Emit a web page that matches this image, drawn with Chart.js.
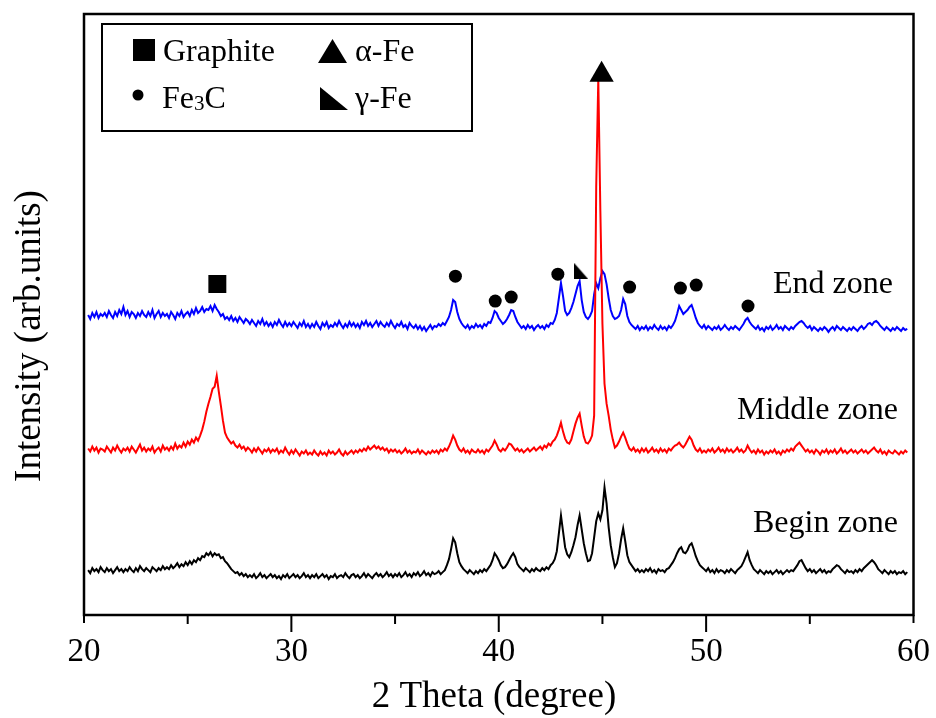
<!DOCTYPE html>
<html>
<head>
<meta charset="utf-8">
<title>XRD patterns</title>
<script src="https://cdn.jsdelivr.net/npm/chart.js@4.4.1/dist/chart.umd.min.js"></script>
<style>
  html, body { margin: 0; padding: 0; background: #fff; }
  #wrap { width: 936px; height: 718px; }
</style>
</head>
<body>
<div id="wrap"><canvas id="xrdChart"></canvas></div>
<script>
// 2 theta (degree), one row per degree
const twoTheta = [
  20.2, 20.3, 20.4, 20.5, 20.6, 20.7, 20.8, 20.9,
  21.0, 21.1, 21.2, 21.3, 21.4, 21.5, 21.6, 21.7, 21.8, 21.9,
  22.0, 22.1, 22.2, 22.3, 22.4, 22.5, 22.6, 22.7, 22.8, 22.9,
  23.0, 23.1, 23.2, 23.3, 23.4, 23.5, 23.6, 23.7, 23.8, 23.9,
  24.0, 24.1, 24.2, 24.3, 24.4, 24.5, 24.6, 24.7, 24.8, 24.9,
  25.0, 25.1, 25.2, 25.3, 25.4, 25.5, 25.6, 25.7, 25.8, 25.9,
  26.0, 26.1, 26.2, 26.3, 26.4, 26.5, 26.6, 26.7, 26.8, 26.9,
  27.0, 27.1, 27.2, 27.3, 27.4, 27.5, 27.6, 27.7, 27.8, 27.9,
  28.0, 28.1, 28.2, 28.3, 28.4, 28.5, 28.6, 28.7, 28.8, 28.9,
  29.0, 29.1, 29.2, 29.3, 29.4, 29.5, 29.6, 29.7, 29.8, 29.9,
  30.0, 30.1, 30.2, 30.3, 30.4, 30.5, 30.6, 30.7, 30.8, 30.9,
  31.0, 31.1, 31.2, 31.3, 31.4, 31.5, 31.6, 31.7, 31.8, 31.9,
  32.0, 32.1, 32.2, 32.3, 32.4, 32.5, 32.6, 32.7, 32.8, 32.9,
  33.0, 33.1, 33.2, 33.3, 33.4, 33.5, 33.6, 33.7, 33.8, 33.9,
  34.0, 34.1, 34.2, 34.3, 34.4, 34.5, 34.6, 34.7, 34.8, 34.9,
  35.0, 35.1, 35.2, 35.3, 35.4, 35.5, 35.6, 35.7, 35.8, 35.9,
  36.0, 36.1, 36.2, 36.3, 36.4, 36.5, 36.6, 36.7, 36.8, 36.9,
  37.0, 37.1, 37.2, 37.3, 37.4, 37.5, 37.6, 37.7, 37.8, 37.9,
  38.0, 38.1, 38.2, 38.3, 38.4, 38.5, 38.6, 38.7, 38.8, 38.9,
  39.0, 39.1, 39.2, 39.3, 39.4, 39.5, 39.6, 39.7, 39.8, 39.9,
  40.0, 40.1, 40.2, 40.3, 40.4, 40.5, 40.6, 40.7, 40.8, 40.9,
  41.0, 41.1, 41.2, 41.3, 41.4, 41.5, 41.6, 41.7, 41.8, 41.9,
  42.0, 42.1, 42.2, 42.3, 42.4, 42.5, 42.6, 42.7, 42.8, 42.9,
  43.0, 43.1, 43.2, 43.3, 43.4, 43.5, 43.6, 43.7, 43.8, 43.9,
  44.0, 44.1, 44.2, 44.3, 44.4, 44.5, 44.6, 44.7, 44.8, 44.9,
  45.0, 45.1, 45.2, 45.3, 45.4, 45.5, 45.6, 45.7, 45.8, 45.9,
  46.0, 46.1, 46.2, 46.3, 46.4, 46.5, 46.6, 46.7, 46.8, 46.9,
  47.0, 47.1, 47.2, 47.3, 47.4, 47.5, 47.6, 47.7, 47.8, 47.9,
  48.0, 48.1, 48.2, 48.3, 48.4, 48.5, 48.6, 48.7, 48.8, 48.9,
  49.0, 49.1, 49.2, 49.3, 49.4, 49.5, 49.6, 49.7, 49.8, 49.9,
  50.0, 50.1, 50.2, 50.3, 50.4, 50.5, 50.6, 50.7, 50.8, 50.9,
  51.0, 51.1, 51.2, 51.3, 51.4, 51.5, 51.6, 51.7, 51.8, 51.9,
  52.0, 52.1, 52.2, 52.3, 52.4, 52.5, 52.6, 52.7, 52.8, 52.9,
  53.0, 53.1, 53.2, 53.3, 53.4, 53.5, 53.6, 53.7, 53.8, 53.9,
  54.0, 54.1, 54.2, 54.3, 54.4, 54.5, 54.6, 54.7, 54.8, 54.9,
  55.0, 55.1, 55.2, 55.3, 55.4, 55.5, 55.6, 55.7, 55.8, 55.9,
  56.0, 56.1, 56.2, 56.3, 56.4, 56.5, 56.6, 56.7, 56.8, 56.9,
  57.0, 57.1, 57.2, 57.3, 57.4, 57.5, 57.6, 57.7, 57.8, 57.9,
  58.0, 58.1, 58.2, 58.3, 58.4, 58.5, 58.6, 58.7, 58.8, 58.9,
  59.0, 59.1, 59.2, 59.3, 59.4, 59.5, 59.6, 59.7
];

// intensity (arb. units), patterns already stacked
const beginZone = [
  45, 42, 47, 44, 46, 43, 48, 45,
  43, 47, 44, 46, 42, 45, 48, 44, 46, 43,
  46, 44, 48, 45, 43, 47, 44, 49, 46, 44,
  47, 45, 43, 48, 46, 44, 47, 45, 49, 46,
  48, 46, 50, 47, 49, 52, 48, 51, 49, 53,
  50, 54, 51, 55, 53, 57, 55, 59, 58, 62,
  60, 63, 59, 62, 60, 61, 57, 58, 54, 52,
  49, 46, 44, 42, 43, 40, 42, 39, 41, 38,
  40, 38, 41, 37, 39, 42, 38, 40, 37, 39,
  41, 38, 40, 37, 39, 36, 40, 38, 41, 37,
  39, 41, 38, 40, 37, 39, 42, 38, 40, 37,
  40, 38, 41, 37, 39, 41, 38, 40, 36, 39,
  38, 41, 37, 39, 40, 38, 42, 39, 37, 40,
  41, 38, 40, 37, 39, 42, 38, 41, 39, 37,
  40, 42, 39, 41, 38, 40, 43, 39, 41, 38,
  41, 39, 42, 38, 40, 43, 39, 41, 38, 42,
  40, 43, 39, 41, 44, 40, 42, 39, 43, 41,
  42, 44, 41, 43, 45, 50, 56, 66, 77, 73,
  62, 53, 49, 46, 44, 42, 45, 43, 41, 44,
  42, 45, 43, 46, 44, 47, 50, 55, 62, 59,
  55, 50, 47, 48, 51, 55, 59, 62, 58, 51,
  48, 46, 44, 47, 45, 43, 46, 44, 47, 45,
  44, 47, 45, 48, 46, 50, 52, 56, 64, 82,
  100, 84, 68, 61, 58, 63, 70, 78, 90, 100,
  86, 72, 62, 54, 55, 62, 78, 94, 102, 96,
  105, 128, 112, 88, 70, 58, 48, 52, 62, 76,
  87, 74, 60, 53, 50, 47, 44, 46, 43, 45,
  43, 46, 44, 47, 43, 45, 42, 46, 44, 45,
  43, 46, 47, 50, 53, 57, 62, 66, 68, 63,
  62, 65, 70, 72, 66, 59, 54, 50, 48, 46,
  44, 47, 43, 45, 42, 46, 43, 45, 44, 42,
  45, 43, 46, 44, 42, 45, 47, 49, 53, 58,
  63, 55, 50, 46, 44, 42, 45, 43, 41, 44,
  42, 44, 41, 43, 45, 42, 44, 41, 43, 45,
  43, 45, 44, 47, 50, 54, 55, 51, 47, 44,
  46, 43, 45, 42, 44, 46, 43, 45, 42, 44,
  43, 46, 48, 50, 49, 46, 44, 42, 45, 43,
  44, 42, 45, 43, 46, 44, 47, 49, 51, 53,
  55, 53, 50, 46, 44, 42, 45, 43, 41, 44,
  42, 44, 41, 43, 42, 44, 41, 43
];

const middleZone = [
  167, 164, 169, 165, 168, 163, 167, 166,
  164, 169, 166, 163, 168, 165, 170, 166, 163, 167,
  165, 168, 164, 169, 166, 163, 167, 171, 165, 168,
  164, 167, 165, 169, 163, 166, 168, 164, 170, 166,
  168, 165, 169, 166, 172, 167, 170, 168, 173, 169,
  174, 171, 176, 173, 178, 175, 180, 186, 194, 204,
  212, 219, 227, 229, 240, 224, 210, 195, 183, 178,
  175, 172, 174, 170, 168, 171, 167, 169, 165, 168,
  166, 163, 167, 164, 168, 165, 162, 166, 164, 167,
  163, 166, 164, 167, 162, 165, 163, 168, 164, 161,
  165, 162, 166, 163, 160, 164, 162, 165, 161, 163,
  161, 165, 162, 160, 164, 161, 163, 160, 165, 162,
  164, 161, 163, 166, 162, 160, 164, 161, 163, 165,
  162, 165, 163, 166, 164, 167, 165, 169, 166, 168,
  170, 167, 169, 166, 168, 165, 167, 163, 166, 164,
  166, 163, 165, 162, 164, 167, 163, 165, 162, 164,
  163, 166, 162, 165, 163, 161, 164, 162, 165, 163,
  165, 162, 166, 164, 167, 165, 169, 174, 180, 176,
  170, 166, 164, 167, 163, 165, 162, 166, 164, 163,
  166, 163, 165, 162, 166, 164, 167, 170, 175, 171,
  166, 164, 167, 165, 168, 172, 171, 168, 165, 167,
  164, 166, 163, 165, 167, 164, 166, 168, 165, 167,
  169, 166, 170, 168, 172, 170, 174, 176, 180, 186,
  193, 184, 177, 173, 172, 176, 184, 192, 198, 202,
  190, 179, 173, 172, 175, 180, 200, 430, 538, 405,
  292, 232, 212, 200, 186, 176, 168, 170, 174, 179,
  183, 178, 172, 167, 165, 168, 164, 166, 163, 167,
  164, 167, 163, 165, 168, 164, 166, 163, 167, 164,
  166, 163, 167, 165, 168, 170, 171, 173, 170, 168,
  171, 175, 179, 176, 170, 166, 164, 167, 163, 165,
  163, 166, 164, 167, 163, 165, 168, 164, 166, 163,
  167, 164, 166, 163, 165, 168, 164, 166, 163, 165,
  170, 166, 163, 165, 162, 166, 163, 165, 161, 164,
  162, 165, 163, 166, 162, 164, 161, 165, 163, 166,
  164, 167, 165, 169, 171, 173, 170, 167, 164, 166,
  163, 165, 162, 166, 164, 161, 165, 163, 166, 162,
  165, 163, 166, 162, 164, 167, 163, 165, 162, 164,
  166, 163, 165, 162, 164, 166, 163, 165, 162, 164,
  166, 168, 165, 163, 166, 162, 164, 161, 165, 163,
  162, 165, 163, 161, 164, 162, 165, 163
];

const endZone = [
  301, 297, 303, 299, 304, 298, 302, 300,
  303, 299, 305, 301, 298, 304, 300, 306, 302, 309,
  301, 305, 299, 304, 302, 298, 303, 300, 305, 301,
  299, 304, 300, 306, 298, 302, 305, 299, 303, 300,
  302, 298, 304, 301, 297, 303, 300, 305, 299, 302,
  304, 300, 306, 302, 308, 303, 305, 309, 304, 307,
  306, 310, 305, 311, 307, 304, 300, 302, 297, 299,
  296, 300, 295, 298, 294, 299, 296, 293, 297, 295,
  292, 296, 293, 290, 295, 292, 297, 291, 294, 290,
  293, 289, 294, 291, 296, 292, 289, 294, 290, 293,
  290, 294, 291, 288, 293, 290, 295, 289, 292, 288,
  292, 289, 294, 290, 287, 293, 290, 294, 288, 291,
  289, 293, 290, 295, 291, 288, 292, 289, 294, 290,
  293, 289, 292, 288, 294, 291, 295, 290, 293, 289,
  292, 295, 290, 294, 291, 289, 293, 290, 295, 291,
  288, 292, 290, 294, 289, 291, 287, 293, 290, 288,
  291, 287, 290, 286, 289, 285, 288, 291, 287, 290,
  289, 292, 290, 293, 291, 295, 299, 306, 316, 314,
  304, 297, 293, 290, 288, 291, 287, 290, 288, 292,
  289, 291, 288, 292, 290, 294, 293, 298, 305, 303,
  298, 295, 292, 294, 297, 301, 306, 305, 299, 294,
  291, 288, 290, 287, 291, 288, 290, 286, 289, 291,
  288, 290, 287, 291, 289, 293, 292, 296, 303, 318,
  333, 320, 305, 301, 303, 308, 314, 322, 330, 335,
  316, 304, 299, 297, 300, 305, 322, 333, 328, 338,
  345, 342, 332, 318, 306, 300, 297, 298, 300, 306,
  317, 312, 300, 294, 291, 289, 287, 290, 286, 289,
  287, 290, 286, 289, 287, 291, 288, 286, 290, 287,
  289, 286, 290, 288, 291, 295, 302, 310, 306, 302,
  304, 306, 309, 311, 305, 298, 293, 290, 288, 291,
  287, 290, 288, 286, 289, 287, 290, 286, 288, 291,
  288, 286, 289, 287, 290, 288, 286, 289, 292, 296,
  298, 294, 291, 289, 287, 290, 286, 288, 285, 289,
  287, 290, 286, 288, 291, 287, 289, 286, 290, 288,
  286, 289, 287, 290, 292, 294, 295, 293, 290, 288,
  290, 286, 289, 287, 285, 288, 286, 289, 287, 284,
  287, 289, 286, 290, 288, 286, 289, 287, 285, 288,
  286, 289, 287, 285, 288, 290, 287, 289, 292, 293,
  291, 294, 295, 293, 290, 288, 286, 289, 287, 285,
  288, 286, 289, 287, 285, 288, 286, 287
];

const zoneNames = ["Begin zone", "Middle zone", "End zone"];
const zoneColors = ["#000000", "#ff0000", "#0000ff"];

// peak markers: 2 theta and height of the symbol
const graphiteTheta = [26.43];
const graphiteMark = [332];
const alphaFeTheta = [44.96];
const alphaFeMark = [542];
const fe3cTheta = [37.91, 39.83, 40.6, 42.85, 46.31, 48.76, 49.52, 52.02];
const fe3cMark = [340, 315, 319, 342, 329, 328, 331, 310];
const gammaFeTheta = [43.98];
const gammaFeMark = [345];

const xTicks = [20, 30, 40, 50, 60];
const xMinorTicks = [25, 35, 45, 55];

const serif = '"Liberation Serif", "Times New Roman", serif';

// filled right triangle, used for the gamma-Fe symbol
function gammaSymbol(w, h) {
  const c = document.createElement("canvas");
  c.width = w;
  c.height = h;
  const g = c.getContext("2d");
  g.fillStyle = "#000";
  g.beginPath();
  g.moveTo(0, 0);
  g.lineTo(w, h);
  g.lineTo(0, h);
  g.closePath();
  g.fill();
  return c;
}

function points(xs, ys) {
  return xs.map((x, i) => ({ x: x, y: ys[i] }));
}

function markerSet(xs, ys, style, radius) {
  return {
    data: points(xs, ys),
    showLine: false,
    pointStyle: style,
    pointRadius: radius,
    pointBackgroundColor: "#000",
    pointBorderColor: "#000",
    pointBorderWidth: 0,
    order: 0,
  };
}

const scans = [beginZone, middleZone, endZone];
const lineSets = scans.map((ys, i) => ({
  label: zoneNames[i],
  data: points(twoTheta, ys),
  borderColor: zoneColors[i],
  borderWidth: 2,
  pointRadius: 0,
  tension: 0,
  order: i === 1 ? 1 : 2,
}));

// legend box, axis titles, frame and tick marks
const decor = {
  id: "xrdDecor",
  afterDraw(chart) {
    const { ctx, chartArea: a, scales } = chart;
    const xs = scales.x;
    ctx.save();
    ctx.strokeStyle = "#000";
    ctx.fillStyle = "#000";

    ctx.lineWidth = 2.5;
    ctx.strokeRect(a.left, a.top, a.right - a.left, a.bottom - a.top);

    ctx.lineWidth = 2;
    ctx.beginPath();
    xTicks.forEach((v) => {
      const px = xs.getPixelForValue(v);
      const len = v === 20 || v === 60 ? 8 : 17;
      ctx.moveTo(px, a.bottom);
      ctx.lineTo(px, a.bottom + len);
    });
    xMinorTicks.forEach((v) => {
      const px = xs.getPixelForValue(v);
      ctx.moveTo(px, a.bottom);
      ctx.lineTo(px, a.bottom + 9);
    });
    ctx.stroke();

    // axis titles
    ctx.font = "37px " + serif;
    ctx.textAlign = "center";
    ctx.textBaseline = "alphabetic";
    ctx.fillText("2 Theta (degree)", 494, 707);
    ctx.save();
    ctx.translate(40, 336);
    ctx.rotate(-Math.PI / 2);
    ctx.fillText("Intensity (arb.units)", 0, 0);
    ctx.restore();

    // pattern names
    ctx.font = "32px " + serif;
    ctx.textAlign = "left";
    ctx.fillText(zoneNames[0], 753, 532);
    ctx.fillText(zoneNames[1], 737, 419);
    ctx.fillText(zoneNames[2], 773, 293);

    // legend
    ctx.lineWidth = 2;
    ctx.strokeRect(102, 24, 370, 107);
    ctx.fillRect(133, 39, 22, 22);
    ctx.beginPath();
    ctx.moveTo(332.5, 39);
    ctx.lineTo(347, 63);
    ctx.lineTo(318, 63);
    ctx.closePath();
    ctx.fill();
    ctx.beginPath();
    ctx.arc(138, 95, 5.5, 0, Math.PI * 2);
    ctx.fill();
    ctx.drawImage(gammaSymbol(28, 23), 320, 87);

    ctx.fillText("Graphite", 163, 61);
    ctx.fillText("\u03b1-Fe", 355, 61);
    ctx.fillText("\u03b3-Fe", 355, 108);
    ctx.fillText("Fe", 162, 108);
    let fx = 162 + ctx.measureText("Fe").width;
    ctx.font = "21px " + serif;
    ctx.fillText("3", fx, 110);
    fx += ctx.measureText("3").width;
    ctx.font = "32px " + serif;
    ctx.fillText("C", fx, 108);

    ctx.restore();
  },
};

new Chart(document.getElementById("xrdChart"), {
  type: "line",
  data: {
    datasets: [
      markerSet(graphiteTheta, graphiteMark, "rect", 12.7),
      markerSet(alphaFeTheta, alphaFeMark, "triangle", 14),
      markerSet(fe3cTheta, fe3cMark, "circle", 6.5),
      markerSet(gammaFeTheta, gammaFeMark, gammaSymbol(14, 16), 8),
      ...lineSets,
    ],
  },
  options: {
    responsive: true,
    maintainAspectRatio: false,
    animation: false,
    events: [],
    layout: { padding: { left: 84, right: 19, top: 12, bottom: 0 } },
    plugins: {
      legend: { display: false },
      tooltip: { enabled: false },
    },
    scales: {
      x: {
        type: "linear",
        min: 20,
        max: 60,
        afterBuildTicks: (scale) => {
          scale.ticks = xTicks.map((v) => ({ value: v }));
        },
        afterFit: (scale) => {
          scale.height = 103;
        },
        border: { display: false },
        grid: {
          drawOnChartArea: false,
          drawTicks: true,
          tickLength: 12,
          tickColor: "rgba(0,0,0,0)",
        },
        ticks: {
          padding: 6,
          maxRotation: 0,
          color: "#000",
          font: { family: serif, size: 33 },
        },
      },
      y: {
        display: false,
        min: 0,
        max: 603,
      },
    },
  },
  plugins: [decor],
});
</script>
</body>
</html>
